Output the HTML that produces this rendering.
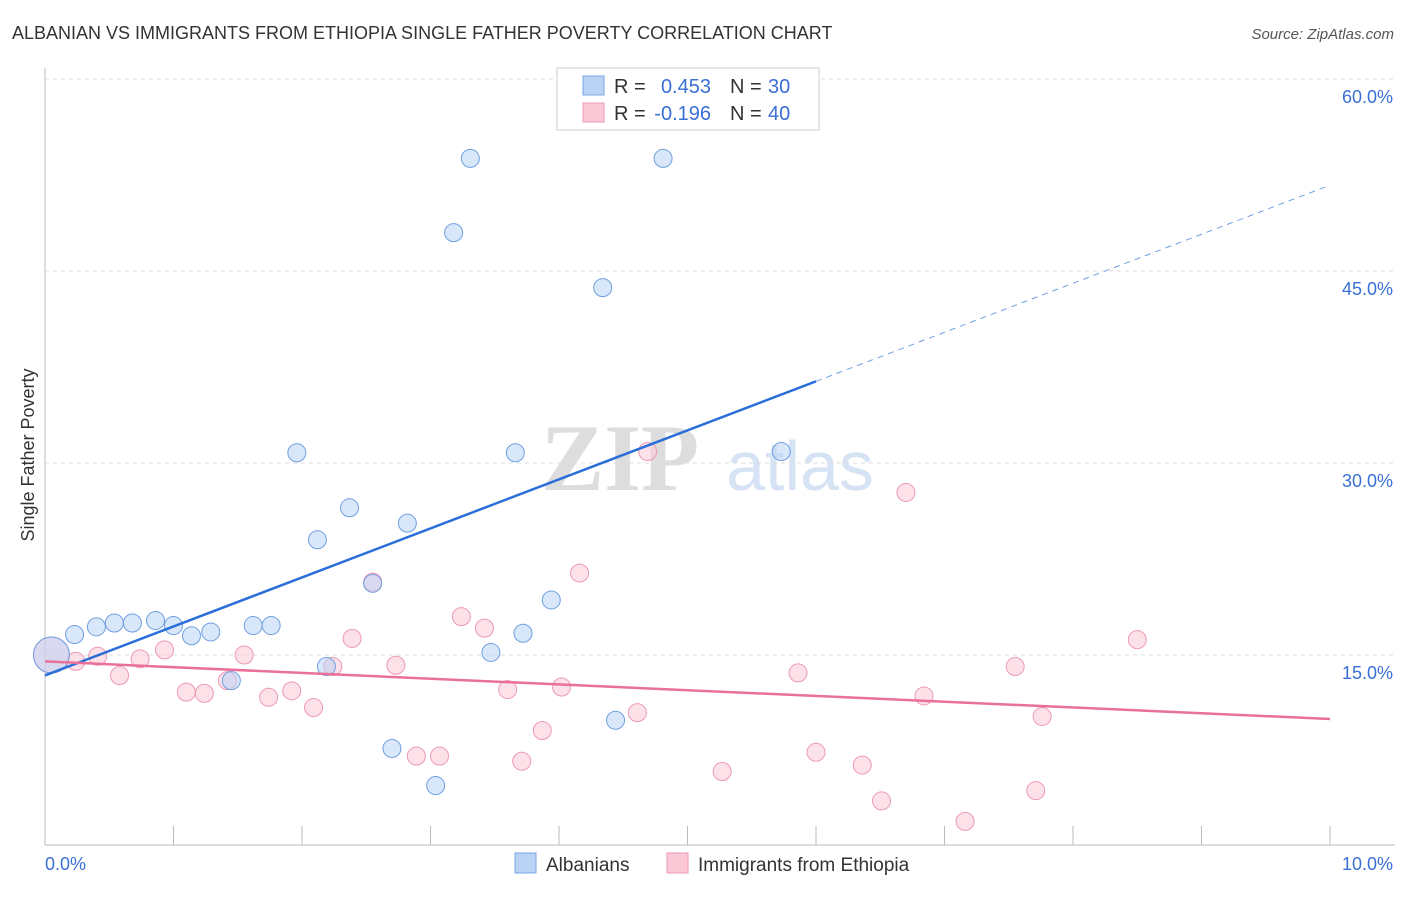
<!DOCTYPE html>
<html><head><meta charset="utf-8"><style>
body{margin:0;background:#fff;font-family:"Liberation Sans",sans-serif}
</style></head><body>
<svg id="chart" width="1406" height="892">
<text x="12" y="39" font-size="18" fill="#333">ALBANIAN VS IMMIGRANTS FROM ETHIOPIA SINGLE FATHER POVERTY CORRELATION CHART</text>
<text x="1394" y="39" font-size="15" fill="#555" font-style="italic" text-anchor="end">Source: ZipAtlas.com</text>
<text x="0" y="0" transform="translate(34,455) rotate(-90)" font-size="18" fill="#333" text-anchor="middle">Single Father Poverty</text>
<text x="620" y="490" font-size="95" fill="#ddd" font-family="Liberation Serif" font-weight="bold" text-anchor="middle">ZIP</text>
<text x="800" y="490" font-size="70" fill="#d6e3f5" text-anchor="middle">atlas</text>
<g id="grid"></g><g id="marks"></g>
<g>
<rect x="557" y="68" width="262" height="62" fill="#fff" stroke="#ccc"/>
<rect x="583" y="76" width="21" height="19" fill="#b9d3f5" stroke="#7aa6e0"/>
<rect x="583" y="103" width="21" height="19" fill="#fbc8d7" stroke="#ec9ab3"/>
<text x="614" y="93" font-size="20" fill="#333">R =</text>
<text x="711" y="93" font-size="20" fill="#3a6fd6" text-anchor="end">0.453</text>
<text x="730" y="93" font-size="20" fill="#333">N =</text>
<text x="768" y="93" font-size="20" fill="#3a6fd6">30</text>
<text x="614" y="120" font-size="20" fill="#333">R =</text>
<text x="711" y="120" font-size="20" fill="#3a6fd6" text-anchor="end">-0.196</text>
<text x="730" y="120" font-size="20" fill="#333">N =</text>
<text x="768" y="120" font-size="20" fill="#3a6fd6">40</text>
</g>
<g>
<rect x="515" y="853" width="21" height="20" fill="#b9d3f5" stroke="#7aa6e0"/>
<text x="546" y="871" font-size="19" fill="#333">Albanians</text>
<rect x="667" y="853" width="21" height="20" fill="#fbc8d7" stroke="#ec9ab3"/>
<text x="698" y="871" font-size="19" fill="#333">Immigrants from Ethiopia</text>
</g>
</svg>
<script>
const blueX=[0.05,0.23,0.40,0.54,0.68,0.86,1.00,1.14,1.29,1.45,1.62,1.76,1.96,2.12,2.19,2.37,2.55,2.70,2.82,3.04,3.18,3.31,3.47,3.66,3.72,3.94,4.34,4.44,4.81,5.73];
const blueY=[15.0,16.6,17.2,17.5,17.5,17.7,17.3,16.5,16.8,13.0,17.3,17.3,30.8,24.0,14.1,26.5,20.6,7.7,25.3,4.8,48.0,53.8,15.2,30.8,16.7,19.3,43.7,9.9,53.8,30.9];
const pinkX=[0.05,0.24,0.41,0.58,0.74,0.93,1.10,1.24,1.42,1.55,1.74,1.92,2.09,2.24,2.39,2.55,2.73,2.89,3.07,3.24,3.42,3.60,3.71,3.87,4.02,4.16,4.61,4.69,5.27,5.86,6.00,6.36,6.51,6.70,6.84,7.16,7.55,7.71,7.76,8.50];
const pinkY=[15.0,14.5,14.9,13.4,14.7,15.4,12.1,12.0,13.0,15.0,11.7,12.2,10.9,14.1,16.3,20.7,14.2,7.1,7.1,18.0,17.1,12.3,6.7,9.1,12.5,21.4,10.5,30.9,5.9,13.6,7.4,6.4,3.6,27.7,11.8,2.0,14.1,4.4,10.2,16.2];
const yTicks=[15,30,45,60];
const yTickLabels=["15.0%","30.0%","45.0%","60.0%"];
const xTicks=[0,1,2,3,4,5,6,7,8,9,10];
const blueTrend=[13.4,51.7], blueSolidEnd=6.0;
const pinkTrend=[14.5,10.0];
const NS="http://www.w3.org/2000/svg";
const sx=v=>45+v*128.5, sy=v=>847-v*12.8;
function mk(tag,at,parent){const e=document.createElementNS(NS,tag);for(const k in at)e.setAttribute(k,at[k]);parent.appendChild(e);return e;}
const grid=document.getElementById('grid'), marks=document.getElementById('marks');
let ax=mk('line',{x1:45,y1:68,x2:45,y2:845,stroke:'#bbb'},grid);


let bx=mk('line',{x1:45,y1:845,x2:1395,y2:845,stroke:'#bbb'},grid);


yTicks.forEach((t,i)=>{
 let g=mk('line',{x1:45,y1:sy(t),x2:1395,y2:sy(t),stroke:'#ddd','stroke-dasharray':'4,4'},grid);
 
 
 let l=mk('text',{x:1393,y:sy(t)+24,'font-size':18,fill:'#3a6fd6','text-anchor':'end'},grid);l.textContent=yTickLabels[i];
 
 
});
xTicks.forEach(t=>{
 let k=mk('line',{x1:sx(t),y1:826,x2:sx(t),y2:845,stroke:'#bbb'},grid);
 
 
});
let x0=mk('text',{x:45,y:870,'font-size':18,fill:'#3a6fd6'},grid);x0.textContent='0.0%';


let x1=mk('text',{x:1393,y:870,'font-size':18,fill:'#3a6fd6','text-anchor':'end'},grid);x1.textContent='10.0%';


function pts(X,Y,fill,stroke,name){X.forEach((x,i)=>{
 let c=mk('circle',{cx:sx(x),cy:sy(Y[i]),r:i===0?18:9,fill:fill,'fill-opacity':0.55,stroke:stroke,'stroke-width':1},marks);
 
 
});}
pts(pinkX,pinkY,'#fbc8d7','#ec9ab3','ethiopia-point');
pts(blueX,blueY,'#b9d3f5','#6f9fe0','albanian-point');
const bf=x=>blueTrend[0]+(blueTrend[1]-blueTrend[0])*x/10;
let bl=mk('line',{x1:sx(0),y1:sy(bf(0)),x2:sx(blueSolidEnd),y2:sy(bf(blueSolidEnd)),stroke:'#2a6fd8','stroke-width':2.5},marks);


let bd=mk('line',{x1:sx(blueSolidEnd),y1:sy(bf(blueSolidEnd)),x2:sx(10),y2:sy(bf(10)),stroke:'#6f9fe0','stroke-width':1,'stroke-dasharray':'6,5'},marks);


let pl=mk('line',{x1:sx(0),y1:sy(pinkTrend[0]),x2:sx(10),y2:sy(pinkTrend[1]),stroke:'#e8709a','stroke-width':2.5},marks);


</script>
</body></html>
